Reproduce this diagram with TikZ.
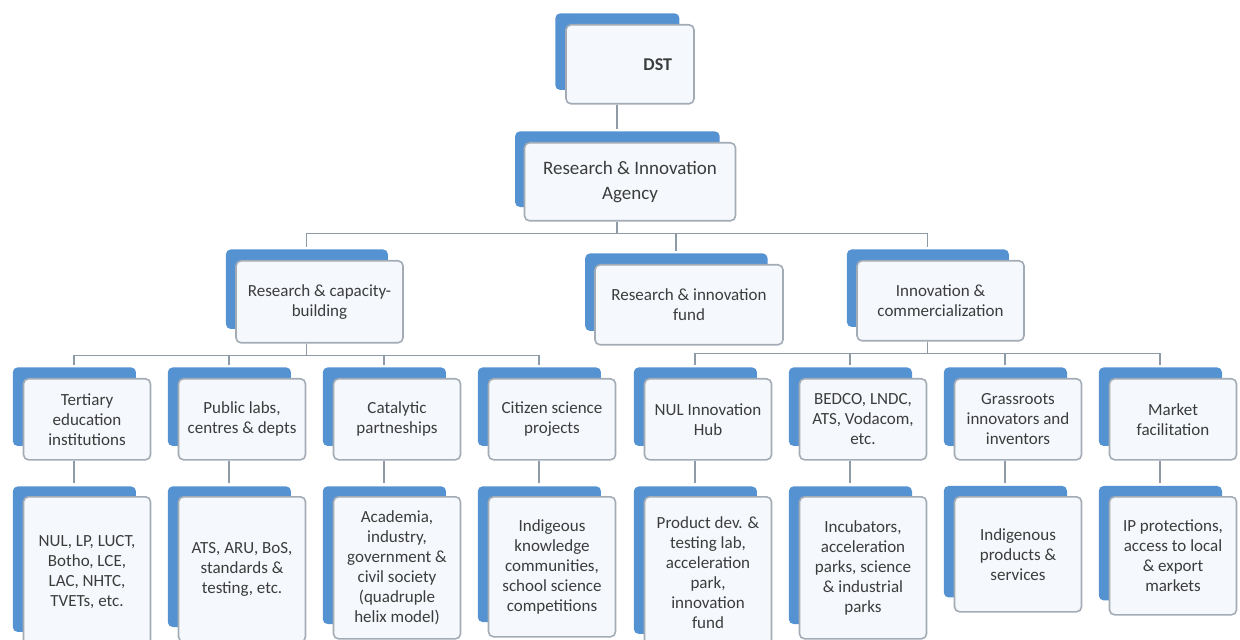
\documentclass[tikz,border=0pt]{standalone}
\usepackage{fontspec}
\setmainfont{Carlito}
\usetikzlibrary{shadows,trees}
\definecolor{boxblue}{HTML}{5592D2}
\definecolor{boxline}{HTML}{A3ACB5}
\definecolor{boxfill}{HTML}{F5F8FC}
\definecolor{linkgray}{HTML}{8E9AA6}
\definecolor{boxtext}{HTML}{3C3C3C}
\begin{document}
\begin{tikzpicture}[x=0.5pt, y=0.5pt,
    orgbox/.style={draw=boxline, line width=0.8pt, fill=boxfill, rounded corners=2.5pt,
      anchor=north, align=center, text=boxtext, inner sep=2pt,
      font=\fontsize{8.5}{10}\selectfont,
      general shadow={fill=boxblue, shadow xshift=-6.5pt, shadow yshift=6.5pt, shadow scale=0.97}},
    every node/.style={orgbox, minimum width=63.5pt, minimum height=40.5pt},
    growth parent anchor=north,
    level distance=59pt,
    level 2/.style={sibling distance=155.25pt},
    level 3/.style={sibling distance=77.5pt},
    edge from parent/.style={draw=linkgray, line width=0.7pt},
    edge from parent path={([xshift=-6.5pt]\tikzparentnode.south) -- ++(0,-6pt)
      -| ([xshift=-6.5pt,yshift=6.5pt]\tikzchildnode.north)}]
  \useasboundingbox (0,0) rectangle (1240,-640);
  \clip (0,0) rectangle (1240,-640);
  \node[minimum width=64pt, minimum height=39.5pt, text width=42pt, align=right,
    font=\fontsize{9}{11}\selectfont\bfseries] (dst) at (630,-24) {DST}
    child {node[minimum width=105.5pt, minimum height=39pt, font=\fontsize{9.5}{12.5}\selectfont] (ria) {Research \& Innovation\\Agency}
      child {node[minimum width=83.5pt, minimum height=41pt] (rcb) {Research \& capacity-\\building}
        child {node (tert) {Tertiary\\education\\institutions}
          child {node[minimum height=75pt] (tertl) {NUL, LP, LUCT,\\Botho, LCE,\\LAC, NHTC,\\TVETs, etc.}}}
        child {node (labs) {Public labs,\\centres \& depts}
          child {node[minimum height=72.5pt] (labsl) {ATS, ARU, BoS,\\standards \&\\testing, etc.}}}
        child {node (cat) {Catalytic\\partneships}
          child {node[minimum height=71pt] (catl) {Academia,\\industry,\\government \&\\civil society\\(quadruple\\helix model)}}}
        child {node (cit) {Citizen science\\projects}
          child {node[minimum height=70pt] (citl) {Indigeous\\knowledge\\communities,\\school science\\competitions}}}
      }
      child {node[xshift=29.5pt, yshift=-2pt, minimum width=94pt, minimum height=40pt] (fund) {Research \& innovation\\fund}}
      child {node[minimum width=83.5pt, minimum height=40pt] (inco) {Innovation \&\\commercialization}
        child {node (hub) {NUL Innovation\\Hub}
          child {node[minimum height=76pt] (hubl) {Product dev. \&\\testing lab,\\acceleration\\park,\\innovation\\fund}}}
        child {node (bedco) {BEDCO, LNDC,\\ATS, Vodacom,\\etc.}
          child {node[minimum height=71pt] (bedcol) {Incubators,\\acceleration\\parks, science\\\& industrial\\parks}}}
        child {node (grass) {Grassroots\\innovators and\\inventors}
          child {node[minimum height=57.5pt] (grassl) {Indigenous\\products \&\\services}}}
        child {node (mkt) {Market\\facilitation}
          child {node[minimum height=59pt] (mktl) {IP protections,\\access to local\\\& export\\markets}}}
      }
    };
\end{tikzpicture}
\end{document}
